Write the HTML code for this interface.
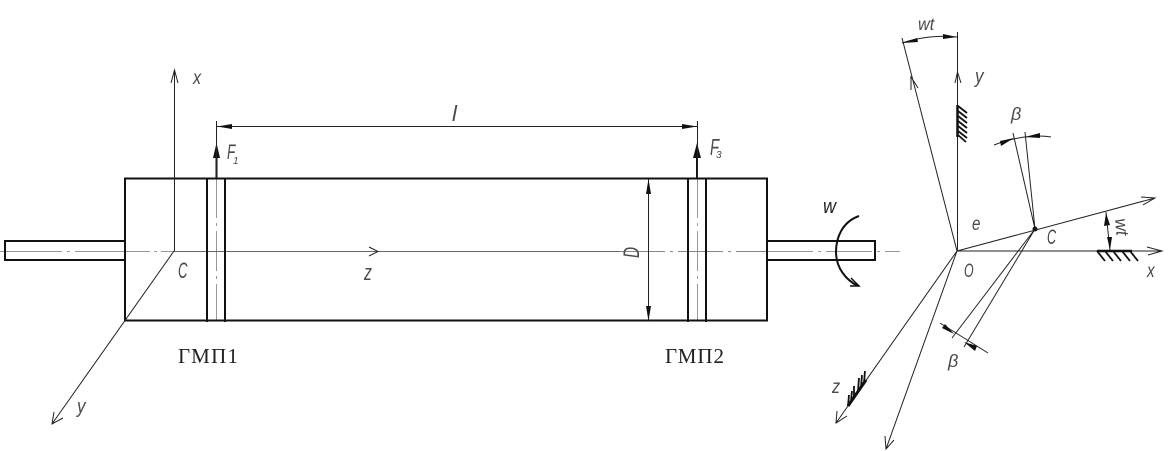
<!DOCTYPE html>
<html><head><meta charset="utf-8"><style>
html,body{margin:0;padding:0;background:#fff}
svg{display:block}
.t{font-family:"Liberation Sans",sans-serif;font-style:italic;fill:#4a4a4a}
.r{font-family:"Liberation Serif",serif;fill:#222;font-size:21px}
</style></head><body>
<svg width="1170" height="451" viewBox="0 0 1170 451" xmlns="http://www.w3.org/2000/svg">
<rect width="1170" height="451" fill="#fff"/>
<!-- centre lines -->
<g stroke="#999" stroke-width="1" fill="none">
<path d="M0 251.500H62M67 251.500H70M75 251.500H150M154 251.500H157M161 251.500H174"/>
<path d="M767 251.500H900" stroke-dasharray="46 5 3 5"/>
<path d="M216.500 178V321" stroke-dasharray="40 5 3 5"/>
<path d="M697.500 178V321" stroke-dasharray="40 5 3 5"/>
</g>
<path d="M174 251.500H378M226 251.500H620" stroke="#666" stroke-width="1"/>
<path d="M620 251.500H767" stroke="#888" stroke-width="1" stroke-dasharray="45 5 3 5"/>
<!-- shaft and body -->
<g stroke="#111" stroke-width="2" fill="none">
<rect x="5" y="241" width="120" height="19"/>
<rect x="125" y="178.500" width="642" height="142"/>
<rect x="767" y="241" width="108" height="19"/>
<path d="M207 178V322M225 178V322M688 178V322M706 178V322"/>
<path d="M216.500 178V150M697 178V150"/>
<path d="M859 216C842 222 836 238 836 252C836 268 846 280 858 286"/>
<path d="M851 278L859 286L850 286" stroke-width="1.500"/>
</g>
<g fill="#111"><path d="M216.500 143L213 158H220Z"/><path d="M697 143L693 158H701Z"/></g>
<!-- left thin lines -->
<g stroke="#222" stroke-width="1" fill="none">
<path d="M174.500 251V70M171 83L174.500 70L178 83"/>
<path d="M174 251L52 424M54 412L52 424L63 418"/>
<path d="M369 247L378 251.500L369 256"/>
<path d="M216.500 121V178M697.500 121V178"/>
<path d="M217 126.500H697"/>
<path d="M648.500 179V321"/>
</g>
<g fill="#111">
<path d="M217 126.500L232 124V129Z"/><path d="M697 126.500L682 124V129Z"/>
<path d="M648.500 179L646 194H651Z"/><path d="M648.500 321L646 306H651Z"/>
</g>
<!-- right diagram thin -->
<g stroke="#222" stroke-width="1" fill="none">
<path d="M957.500 251V32M955 83L957.500 72L961 83"/>
<path d="M957 251H1162M1147 247L1162 251L1148 255"/>
<path d="M957 251L902 38M911 90L911 77L918 88"/>
<path d="M957 251L1155 198M1141 197L1155 198L1143 205"/>
<path d="M957 251L836 423M837 411L836 423L847 416"/>
<path d="M957 251L886 449M885 436L886 449L894 440"/>
<path d="M1035 229L1013 133M1035 229L1025 132"/>
<path d="M1035 229L952 338M1035 229L964 347"/>
<path d="M994 145C1012 138 1034 134 1051 137"/>
<path d="M940 323L988 353"/>
<path d="M902 43C920 37 940 35 957 37"/>
<path d="M1106 212L1110 251"/>
</g>
<g fill="#111">
<circle cx="1035" cy="229" r="2.500"/>
<path d="M1014 138L1000 141L1001 146Z"/><path d="M1025 137L1040 133L1040 138Z"/>
<path d="M902 43L917 38L918 42Z"/><path d="M957 37L943 34V39Z"/>
<path d="M1106 213L1104 226L1110 225Z"/><path d="M1110 250L1107 237L1112 237Z"/>
<path d="M954 334L945 324L942 328Z"/><path d="M964 342L977 346L975 351Z"/>
</g>
<!-- hatching -->
<g stroke="#111" stroke-width="1.800" fill="none">
<path d="M958 106L967 113M958 111L967 118M958 116L967 123M958 121L967 128M958 126L967 133M958 131L967 138M958 135L966 142"/>
<path d="M957.500 105V137" stroke-width="2.500"/>
<path d="M1097 251L1105 261M1105 251L1113 261M1113 251L1121 261M1122 251L1130 261M1130 251L1138 261"/>
<path d="M1097 251H1132" stroke-width="2.500"/>
<path d="M848 406L849 395M851 401L852 391M854 397L854 386M858 391L859 378M861 387L862 375M864 383L865 371"/>
<path d="M848 406L866 380" stroke-width="3"/>
</g>
<!-- labels -->
<text class="t" transform="translate(193 84) scale(.85 1)" font-size="19">x</text>
<text class="t" transform="translate(77 413) scale(.85 1)" font-size="20">y</text>
<text class="t" transform="translate(178 278) scale(.6 1)" font-size="22">C</text>
<text class="t" transform="translate(364 280) scale(.72 1)" font-size="22">z</text>
<text class="t" transform="translate(452 121)" font-size="22">l</text>
<text class="t" transform="translate(227 159) scale(.65 1)" font-size="21">F</text>
<text class="t" x="233" y="164" font-size="10">1</text>
<text class="t" transform="translate(710 155) scale(.65 1)" font-size="23">F</text>
<text class="t" x="716" y="158" font-size="10">3</text>
<text class="t" transform="translate(639 258) rotate(-90) scale(.7 1)" font-size="22">D</text>
<text class="t" transform="translate(823 213) scale(.9 1)" font-size="20" style="fill:#222">w</text>
<text class="r" x="178" y="363" textLength="60">ГМП1</text>
<text class="r" x="665" y="363" textLength="59">ГМП2</text>
<text class="t" transform="translate(918 30) scale(.9 1)" font-size="18">wt</text>
<text class="t" transform="translate(975 83) scale(.85 1)" font-size="20">y</text>
<text class="t" x="1011" y="120" font-size="18">β</text>
<text class="t" transform="translate(972 230) scale(.8 1)" font-size="19">e</text>
<text class="t" transform="translate(1047 244) scale(.6 1)" font-size="21">C</text>
<text class="t" transform="translate(964 277) scale(.65 1)" font-size="19">O</text>
<text class="t" transform="translate(1147 277) scale(.8 1)" font-size="19">x</text>
<text class="t" transform="translate(1115 219) rotate(85) scale(.95 1)" font-size="18">wt</text>
<text class="t" x="948" y="367" font-size="18">β</text>
<text class="t" transform="translate(832 393) scale(.85 1)" font-size="19">z</text>
</svg>
</body></html>
